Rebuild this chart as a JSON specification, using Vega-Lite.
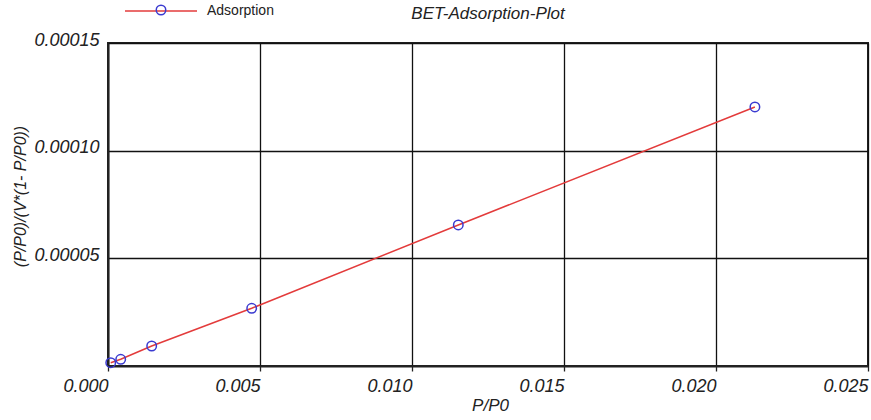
{
  "$schema": "https://vega.github.io/schema/vega-lite/v6.json",
  "autosize": "none",
  "width": 760,
  "height": 323,
  "padding": {"left": 108, "top": 43, "right": 3, "bottom": 54},
  "background": "white",
  "config": {
    "font": "Liberation Sans",
    "view": {"stroke": "#222222", "strokeWidth": 2}
  },
  "title": {
    "text": "BET-Adsorption-Plot",
    "fontStyle": "italic",
    "fontWeight": "normal",
    "fontSize": 17,
    "color": "#222222",
    "anchor": "middle",
    "offset": -49
  },
  "data": {
    "values": [
      {"x": 0.00009, "y": 0.00000153, "series": "Adsorption"},
      {"x": 0.000418, "y": 0.00000311, "series": "Adsorption"},
      {"x": 0.001437, "y": 0.00000929, "series": "Adsorption"},
      {"x": 0.004727, "y": 0.0000268, "series": "Adsorption"},
      {"x": 0.011523, "y": 0.0000655, "series": "Adsorption"},
      {"x": 0.02128, "y": 0.0001203, "series": "Adsorption"}
    ]
  },
  "encoding": {
    "x": {
      "field": "x",
      "type": "quantitative",
      "scale": {"domain": [0, 0.025], "nice": false, "zero": false},
      "axis": {
        "title": "P/P0",
        "values": [0, 0.005, 0.01, 0.015, 0.02, 0.025],
        "format": ".3f",
        "grid": true,
        "gridColor": "#111111",
        "gridOpacity": 1,
        "gridWidth": 1.3,
        "domainColor": "#222222",
        "domainWidth": 2,
        "tickColor": "#222222",
        "tickSize": 5,
        "tickWidth": 1.3,
        "labelAlign": "right",
        "labelBaseline": "top",
        "labelPadding": 6,
        "labelFontSize": 18,
        "labelFontStyle": "italic",
        "labelColor": "#222222",
        "labelFlush": false,
        "labelOverlap": false,
        "titleFontSize": 17,
        "titleFontStyle": "italic",
        "titleFontWeight": "normal",
        "titleColor": "#222222",
        "titleX": 382,
        "titleY": 39,
        "titleBaseline": "middle"
      }
    },
    "y": {
      "field": "y",
      "type": "quantitative",
      "scale": {"domain": [0, 0.00015], "nice": false, "zero": false},
      "axis": {
        "title": "(P/P0)/(V*(1- P/P0))",
        "values": [0.00005, 0.0001, 0.00015],
        "format": ".5f",
        "grid": true,
        "gridColor": "#111111",
        "gridOpacity": 1,
        "gridWidth": 1.3,
        "domainColor": "#222222",
        "domainWidth": 2,
        "ticks": false,
        "labelPadding": 9,
        "labelOffset": -3,
        "labelFontSize": 18,
        "labelFontStyle": "italic",
        "labelColor": "#222222",
        "labelFlush": false,
        "labelOverlap": false,
        "titleFontSize": 16,
        "titleFontStyle": "italic",
        "titleFontWeight": "normal",
        "titleColor": "#222222",
        "titleX": -88,
        "titleY": 153,
        "titleAngle": 270,
        "titleBaseline": "middle"
      }
    }
  },
  "layer": [
    {
      "mark": {"type": "line", "strokeWidth": 1.5},
      "encoding": {
        "stroke": {
          "field": "series",
          "type": "nominal",
          "scale": {"range": ["#e33b3b"]},
          "legend": {
            "title": null,
            "orient": "none",
            "legendX": 16,
            "legendY": -69,
            "symbolType": "stroke",
            "symbolSize": 5184,
            "symbolStrokeWidth": 1.5,
            "labelFontSize": 14,
            "labelColor": "#222222",
            "labelOffset": 9
          }
        }
      }
    },
    {
      "mark": {"type": "point", "shape": "circle", "filled": false, "stroke": "#3a3ad0", "strokeWidth": 1.5, "size": 90, "opacity": 1},
      "encoding": {
        "shape": {
          "field": "series",
          "type": "nominal",
          "scale": {"range": ["circle"]},
          "legend": {
            "title": null,
            "orient": "none",
            "legendX": 46,
            "legendY": -40,
            "symbolSize": 90,
            "symbolStrokeColor": "#3a3ad0",
            "symbolFillColor": "white",
            "symbolStrokeWidth": 1.5,
            "labelExpr": "''",
            "labelFontSize": 14
          }
        }
      }
    }
  ]
}
